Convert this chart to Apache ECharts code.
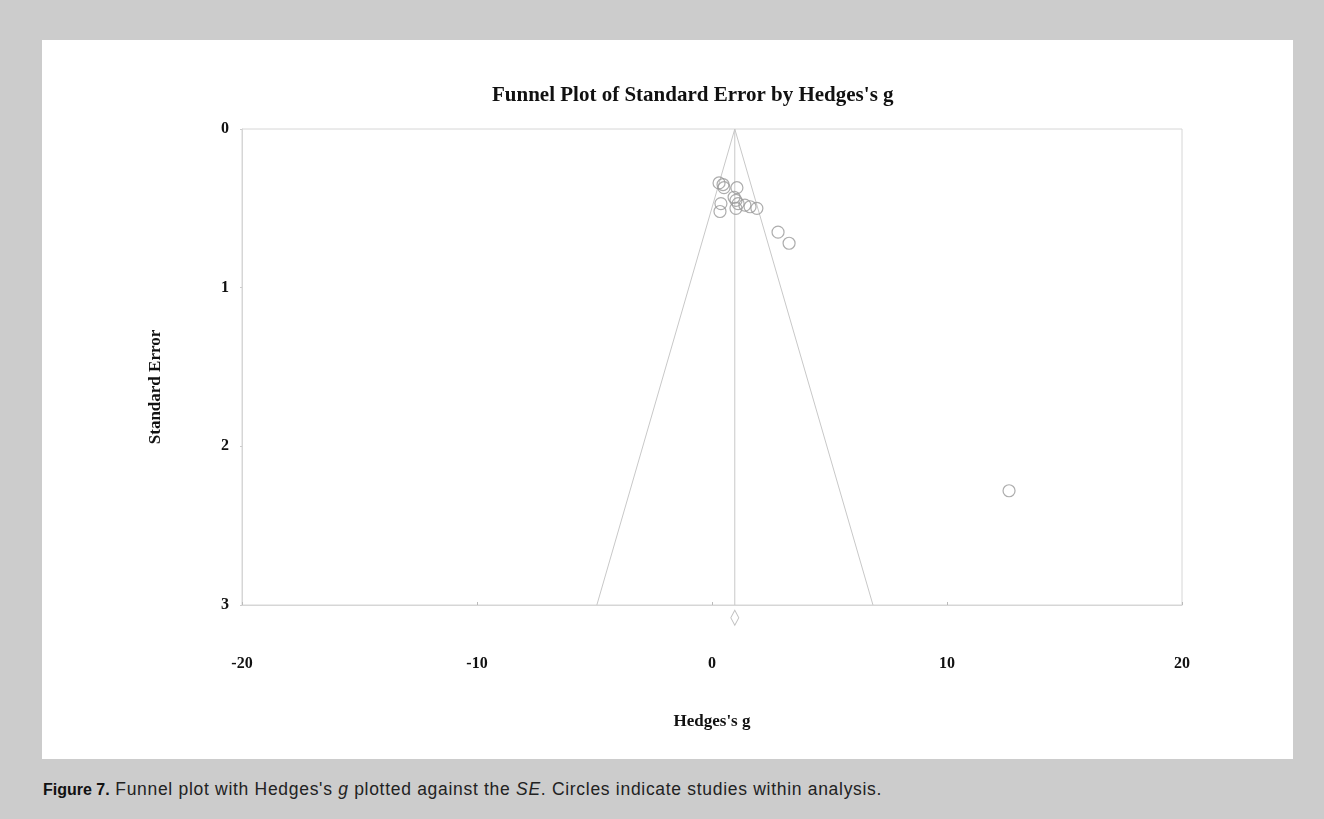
<!DOCTYPE html>
<html>
<head>
<meta charset="utf-8">
<script src="https://cdn.jsdelivr.net/npm/echarts@6/dist/echarts.min.js"></script>
<style>
  html, body { margin: 0; padding: 0; width: 1324px; height: 819px; background: #cccccc; overflow: hidden; }
  .panel { position: absolute; left: 42px; top: 40px; width: 1251px; height: 719px; background: #ffffff; }
  #chart { width: 1251px; height: 719px; }
  .caption { position: absolute; left: 43px; top: 779px; font-family: "Liberation Sans", Arial, sans-serif; font-size: 17.5px; letter-spacing: 0.7px; color: #222; white-space: nowrap; }
  .caption b { color: #111; font-size: 16px; letter-spacing: 0; }
</style>
</head>
<body>
<div class="panel"><div id="chart"></div></div>
<div class="caption"><b>Figure 7.</b> Funnel plot with Hedges's <i>g</i> plotted against the <i>SE</i>. Circles indicate studies within analysis.</div>
<script>
// studies: Hedges's g vs standard error
const studyG  = [0.30, 0.47, 0.51, 1.06, 1.02, 1.11, 0.94, 0.38, 0.34, 1.40, 1.62, 1.91, 1.02, 2.81, 3.28, 12.64];
const studySE = [0.34, 0.35, 0.37, 0.37, 0.45, 0.47, 0.43, 0.47, 0.52, 0.48, 0.49, 0.50, 0.50, 0.65, 0.72, 2.28];

// combined effect + funnel edges
const pooledG = 0.97;
const pooledDiamondSE = 3.08;
const funnelG  = [-4.90, 0.97, 6.85];
const funnelSE = [3, 0, 3];

const xTicks = [-20, -10, 0, 10, 20];
const yTicks = [0, 1, 2, 3];

const serif = '"Liberation Serif", "Times New Roman", serif';
const gray = '#c8c8c8';

const chart = echarts.init(document.getElementById('chart'));

chart.setOption({
  backgroundColor: '#ffffff',
  animation: false,
  title: {
    text: "Funnel Plot of Standard Error by Hedges's g",
    left: 445,
    top: 40,
    textStyle: { fontFamily: serif, fontWeight: 'bold', fontSize: 21, color: '#111' }
  },
  grid: { left: 200, top: 89, right: 111, bottom: 154, show: true, borderColor: '#d6d6d6', borderWidth: 1 },
  xAxis: {
    type: 'value',
    min: xTicks[0],
    max: xTicks[xTicks.length - 1],
    interval: 10,
    name: "Hedges's g",
    nameLocation: 'middle',
    nameGap: 108,
    nameTextStyle: { fontFamily: serif, fontWeight: 'bold', fontSize: 17, color: '#111' },
    axisLine: { onZero: false, lineStyle: { color: '#d6d6d6' } },
    axisTick: { show: true, inside: true, length: 3, lineStyle: { color: '#bbb' } },
    splitLine: { show: false },
    axisLabel: { margin: 51, fontFamily: serif, fontWeight: 'bold', fontSize: 16, color: '#111' }
  },
  yAxis: {
    type: 'value',
    inverse: true,
    min: yTicks[0],
    max: yTicks[yTicks.length - 1],
    interval: 1,
    name: 'Standard Error',
    nameLocation: 'middle',
    nameGap: 78,
    nameRotate: 90,
    nameTextStyle: { fontFamily: serif, fontWeight: 'bold', fontSize: 17, color: '#111', padding: [0, 40, 0, 0] },
    axisLine: { show: true, onZero: false, lineStyle: { color: '#d6d6d6' } },
    axisTick: { show: true, inside: false, length: 2, lineStyle: { color: '#ccc' } },
    splitLine: { show: false },
    axisLabel: { margin: 13, fontFamily: serif, fontWeight: 'bold', fontSize: 16, color: '#111' }
  },
  series: [
    {
      type: 'line',
      data: funnelG.map((g, i) => [g, funnelSE[i]]),
      symbol: 'none',
      lineStyle: { color: gray, width: 1 },
      z: 1
    },
    {
      type: 'line',
      data: [[pooledG, 0], [pooledG, 3]],
      symbol: 'none',
      lineStyle: { color: gray, width: 1 },
      z: 1
    },
    {
      type: 'scatter',
      data: studyG.map((g, i) => [g, studySE[i]]),
      symbol: 'circle',
      symbolSize: 12,
      itemStyle: { color: 'rgba(255,255,255,0)', borderColor: '#999999', borderWidth: 1.2 },
      z: 3
    },
    {
      type: 'scatter',
      data: [[pooledG, pooledDiamondSE]],
      clip: false,
      symbol: 'diamond',
      symbolSize: [8, 15],
      itemStyle: { color: 'rgba(255,255,255,0)', borderColor: '#b0b0b0', borderWidth: 1 },
      z: 3
    }
  ]
});
</script>
</body>
</html>
